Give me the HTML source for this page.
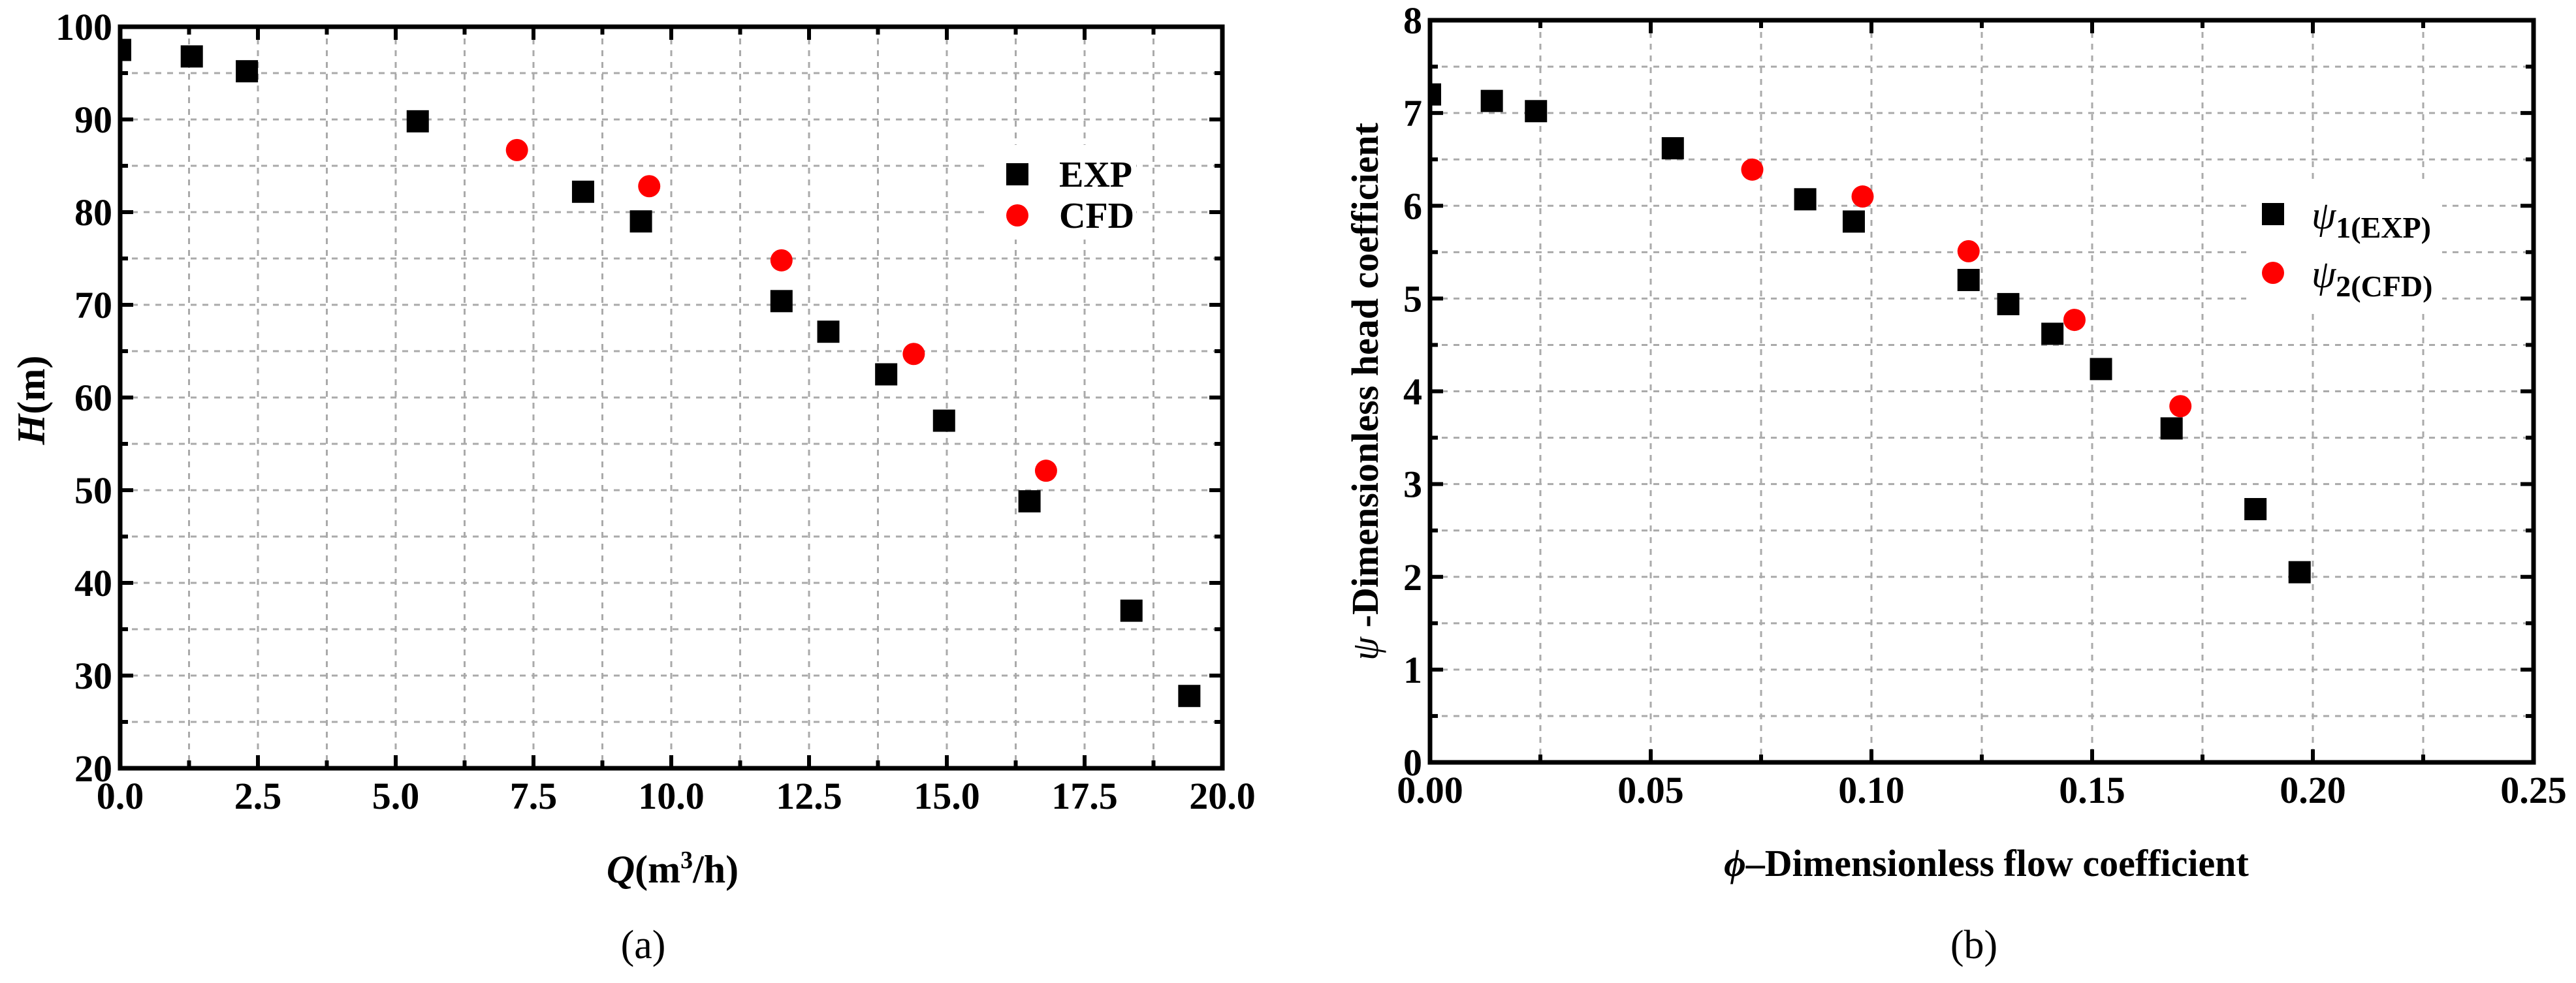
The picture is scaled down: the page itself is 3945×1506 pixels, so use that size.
<!DOCTYPE html>
<html><head><meta charset="utf-8"><style>
html,body{margin:0;padding:0;background:#fff;width:3945px;height:1506px;overflow:hidden}
svg, svg text{font-family:"Liberation Serif","DejaVu Serif",serif}
svg text{font-weight:bold;fill:#000}
</style></head><body>
<svg id="s" width="3945" height="1506" font-family="Liberation Serif, serif" xmlns="http://www.w3.org/2000/svg">
<defs>
<clipPath id="ca"><rect x="184" y="41" width="1688" height="1136"/></clipPath>
<clipPath id="cb"><rect x="2190" y="31" width="1690" height="1137"/></clipPath>
</defs>
</svg>
<script>
// Chart (a)
const aExpQ=[0,1.3,2.3,5.4,8.4,9.45,12.0,12.85,13.9,14.95,16.5,18.35,19.4];
const aExpH=[97.5,96.8,95.2,89.8,82.2,79.0,70.4,67.1,62.5,57.5,48.8,37.0,27.8];
const aCfdQ=[7.2,9.6,12.0,14.4,16.8];
const aCfdH=[86.7,82.8,74.8,64.7,52.1];
const aXTicks=["0.0","2.5","5.0","7.5","10.0","12.5","15.0","17.5","20.0"];
const aYTicks=["20","30","40","50","60","70","80","90","100"];
// Chart (b)
const bExpPhi=[0,0.014,0.024,0.055,0.085,0.096,0.122,0.131,0.141,0.152,0.168,0.187,0.197];
const bExpPsi=[7.2,7.13,7.02,6.62,6.07,5.83,5.2,4.94,4.62,4.24,3.6,2.73,2.05];
const bCfdPhi=[0.073,0.098,0.122,0.146,0.170];
const bCfdPsi=[6.39,6.1,5.51,4.77,3.84];
const bXTicks=["0.00","0.05","0.10","0.15","0.20","0.25"];
const bYTicks=["0","1","2","3","4","5","6","7","8"];

const NS="http://www.w3.org/2000/svg";
const svg=document.getElementById('s');
function mk(tag,attrs,parent,txt){const e=document.createElementNS(NS,tag);for(const k in attrs)e.setAttribute(k,attrs[k]);if(txt!==undefined)e.textContent=txt;(parent||svg).appendChild(e);return e;}

function chart(o){
  const g=mk('g',{});
  
  
  const L=o.L,R=o.R,T=o.T,B=o.B;
  const sx=v=>L+(v-o.x0)/(o.x1-o.x0)*(R-L);
  const sy=v=>B-(v-o.y0)/(o.y1-o.y0)*(B-T);
  const nx=o.xTicks.length-1, ny=o.yTicks.length-1;
  for(let i=1;i<nx*2;i++){const x=L+i*(R-L)/(nx*2);
    const l=mk('line',{x1:x,x2:x,y1:T,y2:B,stroke:'#aaa','stroke-width':3,'stroke-dasharray':'9,9'},g);
    
    }
  for(let i=1;i<ny*2;i++){const y=T+i*(B-T)/(ny*2);
    const l=mk('line',{x1:L,x2:R,y1:y,y2:y,stroke:'#aaa','stroke-width':3,'stroke-dasharray':'9,9'},g);
    
    }
  const lb=mk('rect',{x:o.lg.x,y:o.lg.y,width:o.lg.w,height:o.lg.h,fill:'#fff'},g);
  
  
  for(let i=0;i<=nx*2;i++){const x=L+i*(R-L)/(nx*2);const len=i%2?12:20;
    mk('line',{x1:x,x2:x,y1:B,y2:B-len,stroke:'#000','stroke-width':6},g);
    mk('line',{x1:x,x2:x,y1:T,y2:T+len,stroke:'#000','stroke-width':6},g);}
  for(let i=0;i<=ny*2;i++){const y=T+i*(B-T)/(ny*2);const len=i%2?12:20;
    mk('line',{x1:L,x2:L+len,y1:y,y2:y,stroke:'#000','stroke-width':6},g);
    mk('line',{x1:R,x2:R-len,y1:y,y2:y,stroke:'#000','stroke-width':6},g);}
  o.xTicks.forEach((t,i)=>{const x=L+i*(R-L)/nx;
    const e=mk('text',{x:x,y:B+62,'font-size':58,'text-anchor':'middle','font-family':'Liberation Serif, serif','font-weight':'bold'},g,t);
    
    });
  o.yTicks.forEach((t,i)=>{const y=B-i*(B-T)/ny;
    const e=mk('text',{x:L-12,y:y+20,'font-size':58,'text-anchor':'end','font-family':'Liberation Serif, serif','font-weight':'bold'},g,t);
    
    });
  const pg=mk('g',{'clip-path':'url(#'+o.clip+')'},g);
  o.ex.forEach((v,i)=>{const r=mk('rect',{x:sx(v)-17,y:sy(o.ey[i])-17,width:34,height:34,fill:'#000'},pg);
    
    });
  o.cx.forEach((v,i)=>{const c=mk('circle',{cx:sx(v),cy:sy(o.cy[i]),r:17,fill:'#f00'},pg);
    
    });
  const f=mk('rect',{x:L,y:T,width:R-L,height:B-T,fill:'none',stroke:'#000','stroke-width':7},g);
  
  
  const ls=mk('rect',{x:o.lg.mx-17,y:o.lg.y1-17,width:34,height:34,fill:'#000'},g);
  
  
  const lc=mk('circle',{cx:o.lg.mx,cy:o.lg.y2,r:17,fill:'#f00'},g);
  
  
}

chart({name:'chart-a',L:184,R:1872,T:41,B:1177,x0:0,x1:20,y0:20,y1:100,xTicks:aXTicks,yTicks:aYTicks,
  ex:aExpQ,ey:aExpH,cx:aCfdQ,cy:aCfdH,clip:'ca',lg:{x:1515,y:222,w:225,h:145,mx:1558,y1:267,y2:330}});
chart({name:'chart-b',L:2190,R:3880,T:31,B:1168,x0:0,x1:0.25,y0:0,y1:8,xTicks:bXTicks,yTicks:bYTicks,
  ex:bExpPhi,ey:bExpPsi,cx:bCfdPhi,cy:bCfdPsi,clip:'cb',lg:{x:3440,y:275,w:300,h:205,mx:3481,y1:328,y2:418}});
</script>
<svg width="3945" height="1506" font-family="Liberation Serif, serif" style="position:absolute;left:0;top:0" xmlns="http://www.w3.org/2000/svg">
<text x="1622" y="286" font-size="56">EXP</text>
<text x="1622" y="349" font-size="56">CFD</text>
<text x="1030" y="1352" font-size="60" text-anchor="middle"><tspan font-style="italic">Q</tspan>(m<tspan font-size="38" dy="-22">3</tspan><tspan dy="22">/h)</tspan></text>
<text transform="translate(68,613) rotate(-90)" font-size="60" text-anchor="middle"><tspan font-style="italic">H</tspan>(m)</text>
<text x="985" y="1468" font-size="62" style="font-weight:normal" text-anchor="middle">(a)</text>
<text x="3540" y="350" font-size="60"><tspan font-style="italic" style="font-weight:normal">ψ</tspan><tspan font-size="46" dy="14">1(EXP)</tspan></text>
<text x="3540" y="440" font-size="60"><tspan font-style="italic" style="font-weight:normal">ψ</tspan><tspan font-size="46" dy="14">2(CFD)</tspan></text>
<text x="3042" y="1342" font-size="58" text-anchor="middle"><tspan font-style="italic">ϕ</tspan>–Dimensionless flow coefficient</text>
<text transform="translate(2110,600) rotate(-90)" font-size="58" text-anchor="middle"><tspan font-style="italic" style="font-weight:normal">ψ</tspan> -Dimensionless head coefficient</text>
<text x="3023" y="1468" font-size="62" style="font-weight:normal" text-anchor="middle">(b)</text>
</svg>
</body></html>
